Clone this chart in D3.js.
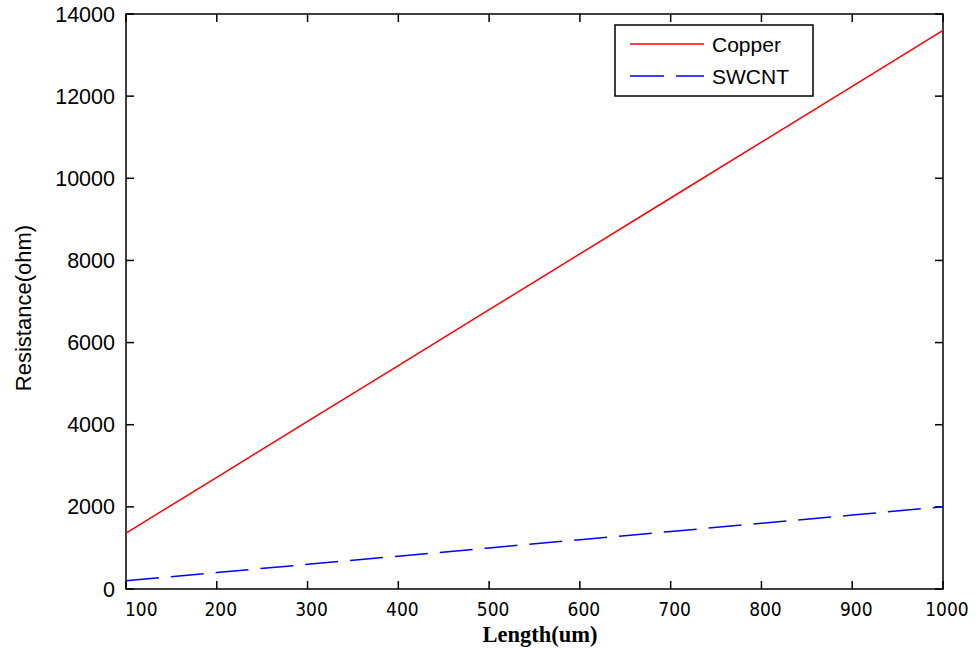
<!DOCTYPE html>
<html>
<head>
<meta charset="utf-8">
<script src="https://cdn.jsdelivr.net/npm/d3@7"></script>
<style>
  html, body { margin: 0; padding: 0; background: #fff; }
  svg { display: block; }
</style>
</head>
<body>
<div id="chart"></div>
<script>
// data
const lengths = [100, 200, 300, 400, 500, 600, 700, 800, 900, 1000];
const copper = [1360, 2720, 4080, 5440, 6800, 8160, 9520, 10880, 12240, 13600];
const swcnt = [200, 400, 600, 800, 1000, 1200, 1400, 1600, 1800, 2000];
const xTicks = [100, 200, 300, 400, 500, 600, 700, 800, 900, 1000];
const yTicks = [0, 2000, 4000, 6000, 8000, 10000, 12000, 14000];
const seriesNames = ["Copper", "SWCNT"];

const W = 979, H = 653;
const m = { left: 126, right: 36, top: 14, bottom: 64 };

const svg = d3.select("#chart").append("svg")
  .attr("width", W).attr("height", H);

const x = d3.scaleLinear().domain([100, 1000]).range([m.left, W - m.right]);
const y = d3.scaleLinear().domain([0, 14000]).range([H - m.bottom, m.top]);

const x0 = x.range()[0], x1 = x.range()[1];
const y0 = y.range()[0], y1 = y.range()[1];
const tickLen = 8;

// box
svg.append("rect")
  .attr("x", x0).attr("y", y1)
  .attr("width", x1 - x0).attr("height", y0 - y1)
  .attr("fill", "none").attr("stroke", "#000").attr("stroke-width", 1.5);

// ticks inward on all four sides
const gTicks = svg.append("g").attr("stroke", "#000").attr("stroke-width", 1.5);
xTicks.forEach(v => {
  gTicks.append("line").attr("x1", x(v)).attr("x2", x(v)).attr("y1", y0).attr("y2", y0 - tickLen);
  gTicks.append("line").attr("x1", x(v)).attr("x2", x(v)).attr("y1", y1).attr("y2", y1 + tickLen);
});
yTicks.forEach(v => {
  gTicks.append("line").attr("x1", x0).attr("x2", x0 + tickLen).attr("y1", y(v)).attr("y2", y(v));
  gTicks.append("line").attr("x1", x1).attr("x2", x1 - tickLen).attr("y1", y(v)).attr("y2", y(v));
});

// tick labels
svg.append("g").selectAll("text").data(xTicks).join("text")
  .attr("x", (d, i) => i === 0 ? x0 - 1 : x(d) + 4)
  .attr("y", y0 + 27)
  .attr("text-anchor", (d, i) => i === 0 ? "start" : "middle")
  .attr("font-family", "DejaVu Sans Condensed, DejaVu Sans, sans-serif")
  .attr("font-size", 19)
  .text(d => d);

svg.append("g").selectAll("text").data(yTicks).join("text")
  .attr("x", x0 - 11).attr("y", d => y(d) + 7.5)
  .attr("text-anchor", "end")
  .attr("font-family", "Liberation Sans, Arial, sans-serif")
  .attr("font-size", 21.5)
  .text(d => d);

// axis labels
svg.append("text")
  .attr("x", 540).attr("y", 642)
  .attr("text-anchor", "middle")
  .attr("font-family", "Liberation Serif, Times New Roman, serif")
  .attr("font-weight", "bold")
  .attr("font-size", 22.5)
  .text("Length(um)");

svg.append("text")
  .attr("transform", "translate(31,308) rotate(-90)")
  .attr("text-anchor", "middle")
  .attr("font-family", "Liberation Sans, Arial, sans-serif")
  .attr("font-size", 22)
  .text("Resistance(ohm)");

// lines
const line = d3.line().x((d, i) => x(lengths[i])).y(d => y(d));
svg.append("path").datum(copper)
  .attr("d", line).attr("fill", "none")
  .attr("stroke", "#ff0000").attr("stroke-width", 1.5);
svg.append("path").datum(swcnt)
  .attr("d", line).attr("fill", "none")
  .attr("stroke", "#0000ff").attr("stroke-width", 1.5)
  .attr("stroke-dasharray", "33,12");

// legend
const lg = svg.append("g");
lg.append("rect")
  .attr("x", 615).attr("y", 25).attr("width", 198).attr("height", 71)
  .attr("fill", "#fff").attr("stroke", "#000").attr("stroke-width", 1.5);
const legendItems = [
  { name: seriesNames[0], color: "#ff0000", dash: null, yy: 44 },
  { name: seriesNames[1], color: "#0000ff", dash: "34,12", yy: 76 }
];
legendItems.forEach(it => {
  lg.append("line")
    .attr("x1", 630).attr("x2", 704).attr("y1", it.yy).attr("y2", it.yy)
    .attr("stroke", it.color).attr("stroke-width", 1.5)
    .attr("stroke-dasharray", it.dash);
  lg.append("text")
    .attr("x", 712).attr("y", it.yy + 7.5)
    .attr("font-family", "Liberation Sans, Arial, sans-serif")
    .attr("font-size", 21)
    .text(it.name);
});
</script>
</body>
</html>
